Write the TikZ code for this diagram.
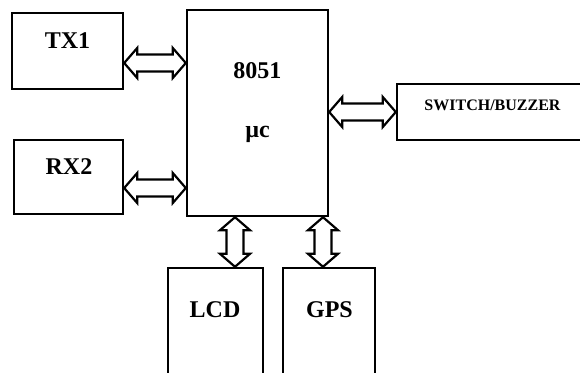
\documentclass[tikz,border=0pt]{standalone}
\usepackage{fontspec}
\setmainfont{Liberation Serif}
\usetikzlibrary{calc,positioning}

\newcommand{\arrtip}{6.5pt}
\newcommand{\arrhead}{7.5pt}
\newcommand{\arrshaft}{4.25pt}

\begin{document}
\begin{tikzpicture}[
    x=0.5pt, y=-0.5pt,
    block/.style={rectangle, draw=black, line width=1.2pt, inner sep=0pt},
    lbl/.style={anchor=base, inner sep=0pt, font=\fontsize{12}{14}\selectfont\bfseries},
    smalllbl/.style={lbl, font=\fontsize{8}{10}\selectfont\bfseries},
    harrow/.style={draw=black, fill=white, line width=1.1pt, line join=miter,
        to path={let \p1=(\tikztostart), \p2=(\tikztotarget) in
            -- (\x1+\arrtip,\y1+\arrhead) -- (\x1+\arrtip,\y1+\arrshaft)
            -- (\x2-\arrtip,\y1+\arrshaft) -- (\x2-\arrtip,\y1+\arrhead)
            -- (\x2,\y1)
            -- (\x2-\arrtip,\y1-\arrhead) -- (\x2-\arrtip,\y1-\arrshaft)
            -- (\x1+\arrtip,\y1-\arrshaft) -- (\x1+\arrtip,\y1-\arrhead) -- cycle}},
    varrow/.style={draw=black, fill=white, line width=1.1pt, line join=miter,
        to path={let \p1=(\tikztostart), \p2=(\tikztotarget) in
            -- (\x1+\arrhead,\y1-\arrtip) -- (\x1+\arrshaft,\y1-\arrtip)
            -- (\x1+\arrshaft,\y2+\arrtip) -- (\x1+\arrhead,\y2+\arrtip)
            -- (\x1,\y2)
            -- (\x1-\arrhead,\y2+\arrtip) -- (\x1-\arrshaft,\y2+\arrtip)
            -- (\x1-\arrshaft,\y1-\arrtip) -- (\x1-\arrhead,\y1-\arrtip) -- cycle}}
]
\useasboundingbox (0,0) rectangle (580,372);
\clip (0,0) rectangle (580,372);

% Blocks
\node[block, minimum width=55.5pt, minimum height=38pt] (tx1) at (67.5,51) {};
\node[block, minimum width=54.5pt, minimum height=37pt] (rx2) at (68.5,177) {};
\node[block, minimum width=70.5pt, minimum height=103pt] (mcu) at (257.5,113) {};
\node[block, minimum width=101.5pt, minimum height=28pt] (switch) at (498.5,112) {};
\node[block, minimum width=47.5pt, minimum height=76pt] (lcd) at (215.5,344) {};
\node[block, minimum width=46pt, minimum height=76pt] (gps) at (329,344) {};

% Labels
\node[lbl] (tx1txt) at (67.5,48) {TX1};
\node[lbl] (rx2txt) at (69,174) {RX2};
\node[lbl] (mcutxt) at (257.5,78) {8051};
\node[lbl] (mcusub) at (257.5,137) {µc};
\node[smalllbl] (switchtxt) at (492.5,110) {SWITCH/BUZZER};
\node[lbl] (lcdtxt) at (215,317) {LCD};
\node[lbl] (gpstxt) at (329.5,317) {GPS};

% Ports
\coordinate (txport) at ([yshift=-6pt]tx1.east);
\coordinate (rxport) at ([yshift=-5.5pt]rx2.east);
\coordinate (lcdport) at ([xshift=9.75pt]lcd.north);
\coordinate (gpsport) at ([xshift=-3pt]gps.north);

% Buses
\draw[harrow] (txport) to (mcu.west |- txport);
\draw[harrow] (rxport) to (mcu.west |- rxport);
\draw[harrow] (mcu.east |- switch.west) to (switch.west);
\draw[varrow] (lcdport |- mcu.south) to (lcdport);
\draw[varrow] (gpsport |- mcu.south) to (gpsport);

\end{tikzpicture}
\end{document}
